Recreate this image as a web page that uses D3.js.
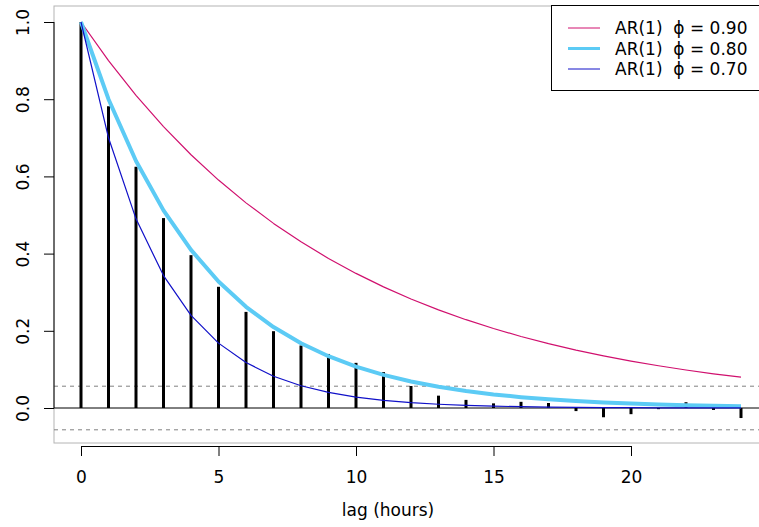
<!DOCTYPE html>
<html><head><meta charset="utf-8">
<script src="https://cdn.jsdelivr.net/npm/d3@7"></script>
<style>body{margin:0;background:#fff}svg{display:block;font-family:"DejaVu Sans",sans-serif}</style>
</head><body><svg id="c" width="759" height="527"></svg>
<script>
const lags = d3.range(0, 25);
const acfValues = [1.0,0.782,0.625,0.492,0.396,0.314,0.249,0.199,0.162,0.14,0.117,0.093,0.057,0.032,0.021,0.012,0.016,0.013,-0.008,-0.024,-0.016,-0.003,0.015,-0.005,-0.026];
const ar90 = [1,0.9,0.81,0.729,0.6561,0.59049,0.531441,0.478297,0.430467,0.38742,0.348678,0.313811,0.28243,0.254187,0.228768,0.205891,0.185302,0.166772,0.150095,0.135085,0.121577,0.109419,0.098477,0.088629,0.079766];
const ar80 = [1,0.8,0.64,0.512,0.4096,0.32768,0.262144,0.209715,0.167772,0.134218,0.107374,0.085899,0.068719,0.054976,0.04398,0.035184,0.028147,0.022518,0.018014,0.014412,0.011529,0.009223,0.007379,0.005903,0.004722];
const ar70 = [1,0.7,0.49,0.343,0.2401,0.16807,0.117649,0.082354,0.057648,0.040354,0.028248,0.019773,0.013841,0.009689,0.006782,0.004748,0.003323,0.002326,0.001628,0.00114,0.000798,0.000559,0.000391,0.000274,0.000192];
const confBound = 0.0565;
const xTicks = [0,5,10,15,20];
const yTicks = [0,0.2,0.4,0.6,0.8,1.0];
const legendLabels = ["AR(1)\u00A0\u00A0\u03D5 = 0.90","AR(1)\u00A0\u00A0\u03D5 = 0.80","AR(1)\u00A0\u00A0\u03D5 = 0.70"];
const seriesColors = ["#d0106e","#5ccbf5","#1010c8"];
const seriesWidths = [1.2,4,1.2];

const svg = d3.select("#c");
const x = d3.scaleLinear().domain([0,20]).range([81,631]);
const y = d3.scaleLinear().domain([0,1]).range([408,22]);
const box = {l:54, t:6, r:775, b:443};
const FS = 17;

// plot box
svg.append("rect").attr("x",box.l).attr("y",box.t).attr("width",box.r-box.l).attr("height",box.b-box.t)
  .attr("fill","none").attr("stroke","#b4b4b4").attr("stroke-width",1);

// confidence bounds
[confBound,-confBound].forEach(v=>{
  svg.append("line").attr("x1",box.l).attr("x2",box.r).attr("y1",y(v)).attr("y2",y(v))
    .attr("stroke","#808080").attr("stroke-width",1).attr("stroke-dasharray","4,4");
});
// zero line
svg.append("line").attr("x1",box.l).attr("x2",box.r).attr("y1",y(0)).attr("y2",y(0))
  .attr("stroke","#000").attr("stroke-width",1);

// acf bars
svg.append("g").selectAll("line").data(lags).join("line")
  .attr("x1",d=>x(d)).attr("x2",d=>x(d)).attr("y1",y(0)).attr("y2",d=>y(acfValues[d]))
  .attr("stroke","#000").attr("stroke-width",3);

// curves
const line = d3.line().x((d,i)=>x(i)).y(d=>y(d));
[ar90, ar80, ar70].forEach((s,i)=>{
  svg.append("path").attr("d",line(s)).attr("fill","none")
    .attr("stroke",seriesColors[i]).attr("stroke-width",seriesWidths[i]).attr("stroke-linejoin","round");
});

// x axis
const xa = svg.append("g").attr("transform",`translate(0,446)`)
  .call(d3.axisBottom(x).tickValues(xTicks).tickSize(10).tickPadding(15).tickFormat(d3.format("d")));
xa.select(".domain").attr("stroke","#000");
xa.selectAll("text").attr("font-size",FS).attr("font-family","DejaVu Sans").attr("fill","#000");
svg.append("text").attr("x",388).attr("y",516).attr("text-anchor","middle")
  .attr("font-size",FS).text("lag (hours)");

// y axis
const ya = svg.append("g").attr("transform",`translate(${box.l},0)`)
  .call(d3.axisLeft(y).tickValues(yTicks).tickSize(10).tickFormat(d3.format(".1f")));
ya.select(".domain").attr("stroke","#000").attr("d",`M0,${y(0)}V${y(1)}`);
ya.selectAll(".tick text").attr("font-size",FS).attr("font-family","DejaVu Sans").attr("fill","#000")
  .attr("text-anchor","middle")
  .each(function(d){ d3.select(this).attr("x",0).attr("dy",null).attr("y",0)
      .attr("transform",`translate(-31,0) rotate(-90)`).attr("dominant-baseline","central"); });

// legend
const lg = svg.append("g");
lg.append("rect").attr("x",551.5).attr("y",5.5).attr("width",220).attr("height",85)
  .attr("fill","#fff").attr("stroke","#000").attr("stroke-width",1);
legendLabels.forEach((t,i)=>{
  const yy = 28 + i*20.5;
  lg.append("line").attr("x1",568).attr("x2",600).attr("y1",yy).attr("y2",yy)
    .attr("stroke",seriesColors[i]).attr("stroke-width",seriesWidths[i]===4?3:1);
  lg.append("text").attr("x",615).attr("y",yy).attr("dominant-baseline","central")
    .attr("font-size",FS).text(t);
});
</script></body></html>
